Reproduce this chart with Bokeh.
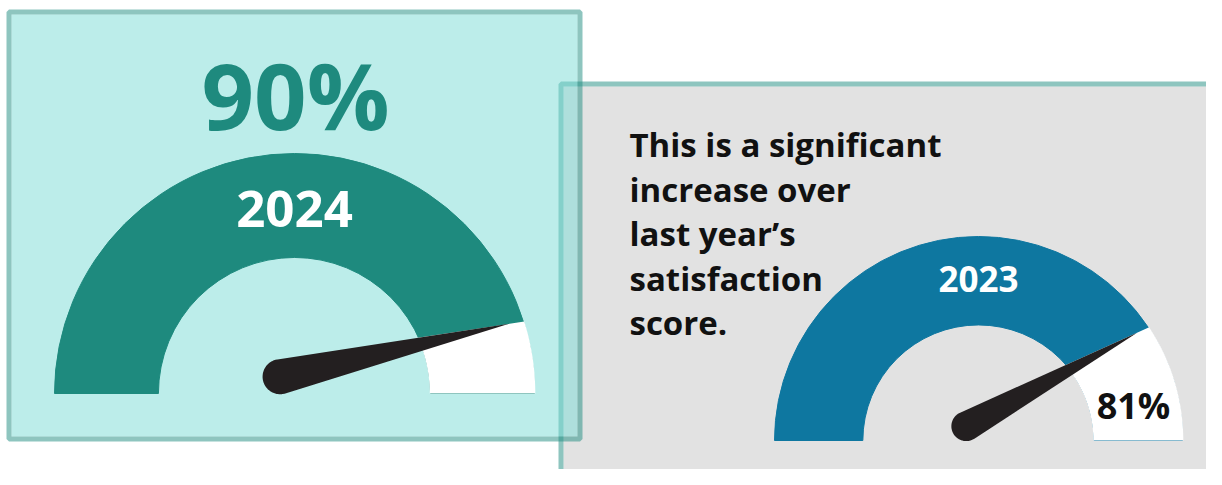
import numpy as np
from bokeh.plotting import figure
from bokeh.models import Range1d
from bokeh.embed import file_html
from bokeh.resources import INLINE
from bokeh.core.properties import value

# ---------------- data ----------------
years = ["2024", "2023"]
scores = [90, 81]
score_labels = ["90%", "81%"]
note_lines = ["This is a significant", "increase over", "last year\u2019s",
              "satisfaction", "score."]

# ---------------- styles / layout ----------------
TEAL = "#1E8A7E"
BLUE = "#0E77A0"
NEEDLE = "#231F20"
BORDER = "#1D8B7F"
FONT = value("Open Sans")

W, H, M = 1222, 485, 8
PW, PH = W - 2 * M, H - 2 * M
MID = 0.39  # text anchor sits this fraction of the font size above the baseline


def Y(y):
    """top-down layout coordinate -> data y (upward)"""
    return H - y


def TY(baseline, size):
    return Y(baseline - MID * size)


gauges = [
    dict(cx=294, cy=393, R=240, color=TEAL, year_size=51, year_rise=165),
    dict(cx=978, cy=440, R=204, color=BLUE, year_size=35, year_rise=148),
]
INNER = 0.567

p = figure(width=PW, height=PH,
           x_range=Range1d(0, PW), y_range=Range1d(H - PH, H),
           output_backend="svg", toolbar_location=None, min_border=0)
p.axis.visible = False
p.grid.visible = False
p.outline_line_color = None
p.background_fill_color = "white"
p.border_fill_color = "white"


def panel(x0, y0, x1, y1, fill, fill_alpha, bw=5):
    p.quad(left=[x0 + bw], right=[x1 - bw], top=[Y(y0 + bw)], bottom=[Y(y1 - bw)],
           fill_color=fill, fill_alpha=fill_alpha, line_color=None)
    p.quad(left=[x0 + bw / 2], right=[x1 - bw / 2], top=[Y(y0 + bw / 2)],
           bottom=[Y(y1 - bw / 2)], fill_color=None, line_color=BORDER,
           line_alpha=0.5, line_width=bw)


# right (grey) panel first, then translucent teal panel on top
panel(558, 81, 1245, 490, "#E2E2E2", 1.0)
panel(6, 9, 582, 441, "#79DBD5", 0.5)


def gauge(g, score):
    cx, cy, R = g["cx"], Y(g["cy"]), g["R"]
    r = INNER * R
    p.annular_wedge(x=[cx], y=[cy], inner_radius=r, outer_radius=R,
                    start_angle=0, end_angle=np.pi, color=g["color"])
    theta = np.pi * (1 - score / 100.0)
    C = np.array([cx, cy], float)
    P = C + np.array([-0.06 * R, 0.07 * R])
    rb = 0.073 * R
    T = C + 0.94 * R * np.array([np.cos(theta), np.sin(theta)])
    d = T - P
    L = np.hypot(*d)
    phi = np.arctan2(d[1], d[0])
    a = np.arccos(rb / L)
    A = P + rb * np.array([np.cos(phi + a), np.sin(phi + a)])
    e = (T - A) / np.hypot(*(T - A))

    def hit(rho):
        f = A - C
        b = e @ f
        c = f @ f - rho ** 2
        t = -b + np.sqrt(b * b - c)
        q = A + t * e
        return np.arctan2(q[1] - cy, q[0] - cx)

    Ro, ri = R + 0.8, r - 0.8
    th_o, th_i = hit(Ro), hit(ri)
    ao = np.linspace(0, th_o, 60)
    ai = np.linspace(th_i, 0, 60)
    wx = np.concatenate([cx + Ro * np.cos(ao), cx + ri * np.cos(ai)])
    wy = np.concatenate([cy + Ro * np.sin(ao), cy + ri * np.sin(ai)])
    p.patch(wx, wy, color="white", line_color=None)

    ang = np.linspace(phi + a, phi + 2 * np.pi - a, 80)
    nx = np.concatenate([P[0] + rb * np.cos(ang), [T[0]]])
    ny = np.concatenate([P[1] + rb * np.sin(ang), [T[1]]])
    p.patch(nx, ny, color=NEEDLE, line_color=None)


for g, s in zip(gauges, scores):
    gauge(g, s)

# year labels inside arcs
for g, yr in zip(gauges, years):
    base = g["cy"] - g["year_rise"]
    p.text(x=[g["cx"]], y=[TY(base, g["year_size"])], text=[yr],
           text_font=FONT, text_font_style="bold",
           text_font_size=f'{g["year_size"]}px',
           text_color="white", text_align="center", text_baseline="alphabetic")

# score labels
p.text(x=[295], y=[TY(130, 92)], text=[score_labels[0]], text_font=FONT,
       text_font_style="bold", text_font_size="92px", text_color=TEAL,
       text_align="center", text_baseline="alphabetic")
p.text(x=[1133], y=[TY(419, 36)], text=[score_labels[1]], text_font=FONT,
       text_font_style="bold", text_font_size="36px", text_color="#111111",
       text_align="center", text_baseline="alphabetic")

# note text
for i, line in enumerate(note_lines):
    p.text(x=[629], y=[TY(157 + 44.5 * i, 33)], text=[line], text_font=FONT,
           text_font_style="bold", text_font_size="33px", text_color="#111111",
           text_align="left", text_baseline="alphabetic")

open("out.html", "w").write(file_html(p, INLINE))
